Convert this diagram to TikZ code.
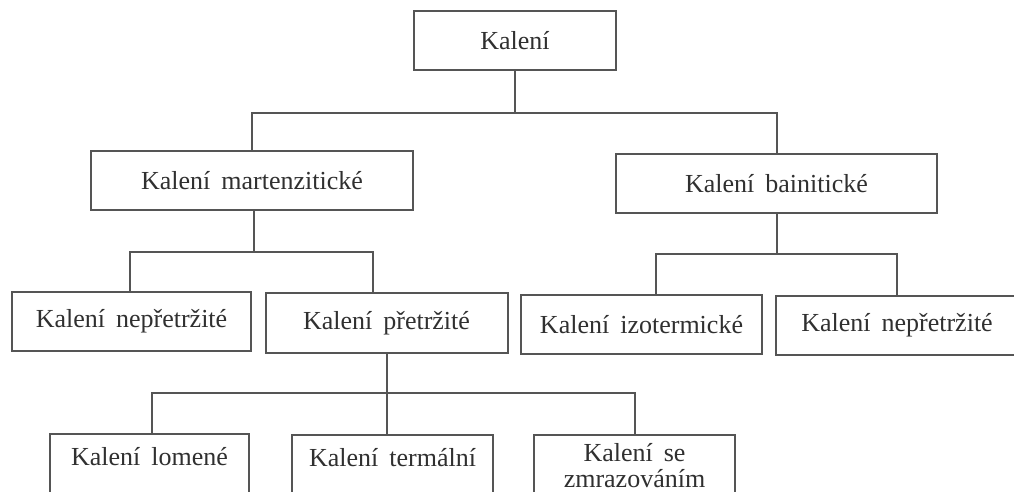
\documentclass[tikz,border=0pt]{standalone}
\usepackage{fontspec}
\setmainfont{Liberation Serif}
\definecolor{lineC}{HTML}{555555}
\definecolor{textC}{HTML}{303030}
\newcommand{\myboxfont}{\fontsize{26}{26}\selectfont\spaceskip=11pt plus 2pt minus 2pt\relax}
\tikzset{
  box/.style={draw=lineC, line width=2pt, rectangle, inner sep=0pt, text=textC,
    font=\myboxfont, minimum height=59pt, align=center},
  leaf/.style={box, minimum height=62pt},
  leafone/.style={leaf, text height=18pt, text depth=18pt}
  ,conn/.style={draw=lineC, line width=2pt}
}
\begin{document}
\begin{tikzpicture}[x=1pt,y=1pt]
\useasboundingbox (0,0) rectangle (1014,-492);
\clip (0,0) rectangle (1014,-492);
\fill[white] (0,0) rectangle (1014,-492);
% nodes
\node[box, minimum width=202pt] (root) at (515,-40.5) {Kalení};
\node[box, minimum width=322pt] (mart) at (252,-180.5) {Kalení martenzitické};
\node[box, minimum width=321pt] (bain) at (776.5,-183.5) {Kalení bainitické};
\node[box, minimum width=239pt] (nep1) at (131.5,-321.5) {Kalení nepřetržité};
\node[box, minimum width=242pt, minimum height=60pt] (pret) at (386.5,-323) {Kalení přetržité};
\node[box, minimum width=241pt] (izo) at (641.5,-324.5) {Kalení izotermické};
\node[box, minimum width=242pt] (nep2) at (897,-325.5) {Kalení nepřetržité};
\node[leafone, minimum width=199pt] (lom) at (149.5,-465) {Kalení lomené};
\node[leafone, minimum width=201pt] (term) at (392.5,-466) {Kalení termální};
\node[leaf, minimum width=201pt] (zmr) at (634.5,-466) {Kalení se\\zmrazováním};
% junctions
\coordinate (j1) at (515,-113);
\coordinate (j2) at (254,-252);
\coordinate (j3) at (776.5,-254);
\coordinate (j4) at (387,-393);
% connectors
\draw[conn] (root.south) -- (j1);
\draw[conn] (mart.north) |- (j1) -| (bain.north);
\draw[conn] (mart.south -| j2) -- (j2);
\draw[conn] ([xshift=-1.5pt]nep1.north) |- (j2) -| ([xshift=-14pt]pret.north);
\draw[conn] (bain.south) -- (j3);
\draw[conn] ([xshift=14.5pt]izo.north) |- (j3) -| (nep2.north);
\draw[conn] (pret.south -| j4) -- (j4);
\draw[conn] ([xshift=2.5pt]lom.north) |- (j4) -- ([xshift=-5.5pt]term.north);
\draw[conn] (j4) -| (zmr.north);
\end{tikzpicture}
\end{document}
